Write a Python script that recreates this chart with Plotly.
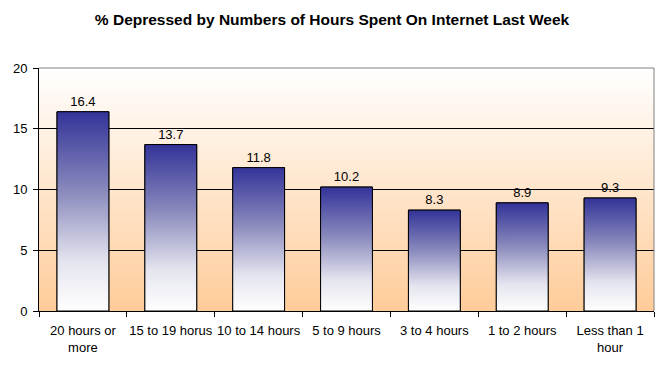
import base64
import plotly.graph_objects as go

categories = ["20 hours or<br>more", "15 to 19 horus", "10 to 14 hours", "5 to 9 hours",
              "3 to 4 hours", "1 to 2 hours", "Less than 1<br>hour"]
values = [16.4, 13.7, 11.8, 10.2, 8.3, 8.9, 9.3]
y_ticks = [0, 5, 10, 15, 20]

FONT = "Arial, Liberation Sans, sans-serif"
BAR_W = 0.59
bar_scale = [[0, "#ffffff"], [0.25, "#e4e4ef"], [0.6, "#8a8abd"], [1, "#333399"]]

idx = list(range(len(categories)))
fig = go.Figure()

# gradient fills of the bars
for i, v in zip(idx, values):
    x0, x1 = i - BAR_W / 2, i + BAR_W / 2
    fig.add_trace(go.Scatter(
        x=[x0, x0, x1, x1, x0], y=[0, v, v, 0, 0],
        mode="lines", fill="toself",
        line=dict(color="black", width=1),
        fillgradient=dict(type="vertical", colorscale=bar_scale),
        hoverinfo="skip", showlegend=False,
    ))

# bars (outline + value labels)
fig.add_trace(go.Bar(
    x=idx, y=values, width=BAR_W,
    marker=dict(color="rgba(0,0,0,0)", line=dict(color="black", width=1)),
    text=[f"{v:.1f}" for v in values], textposition="outside",
    textfont=dict(family=FONT, size=13, color="black"),
    cliponaxis=False, showlegend=False,
))

svg = ('<svg xmlns="http://www.w3.org/2000/svg" width="10" height="100" viewBox="0 0 10 100" '
       'preserveAspectRatio="none"><defs><linearGradient id="g" x1="0" y1="0" x2="0" y2="1">'
       '<stop offset="0" stop-color="#ffffff"/><stop offset="1" stop-color="#ffcc99"/>'
       '</linearGradient></defs><rect width="10" height="100" fill="url(#g)"/></svg>')
src = "data:image/svg+xml;base64," + base64.b64encode(svg.encode()).decode()

fig.update_layout(
    width=664, height=369,
    margin=dict(l=39, r=10, t=68, b=58),
    paper_bgcolor="white", plot_bgcolor="white",
    font=dict(family=FONT, size=13, color="black"),
    title=dict(text="<b>% Depressed by Numbers of Hours Spent On Internet Last Week</b>",
               x=0.5, xanchor="center", y=1 - 20 / 369, yanchor="middle", yref="container",
               font=dict(family=FONT, size=15.5, color="black")),
    images=[dict(source=src, xref="paper", yref="paper", x=0, y=1, sizex=1, sizey=1,
                 xanchor="left", yanchor="top", sizing="stretch", layer="below")],
    shapes=[dict(type="line", xref="paper", yref="paper", x0=0, x1=1, y0=1, y1=1,
                 line=dict(color="#808080", width=1)),
            dict(type="line", xref="paper", yref="paper", x0=1, x1=1, y0=0, y1=1,
                 line=dict(color="#808080", width=1))],
    xaxis=dict(range=[-0.5, len(categories) - 0.5], tickvals=idx, ticktext=categories,
               ticks="", showgrid=False, zeroline=False, automargin=False,
               ticklabelstandoff=7,
               showline=True, linecolor="black", linewidth=1,
               tickfont=dict(family=FONT, size=13, color="black"),
               minor=dict(tick0=-0.5, dtick=1, ticks="outside", ticklen=5,
                          tickcolor="black", showgrid=False)),
    yaxis=dict(range=[0, 20], tickvals=y_ticks, ticks="outside", ticklen=5, tickcolor="black",
               showgrid=True, gridcolor="black", gridwidth=1, zeroline=False, automargin=False,
               ticklabelstandoff=3,
               showline=True, linecolor="black", linewidth=1,
               tickfont=dict(family=FONT, size=13, color="black")),
    bargap=0.41,
)

fig.write_html("out.html", config={"displayModeBar": False},
               post_script="document.body.style.margin='0';")
